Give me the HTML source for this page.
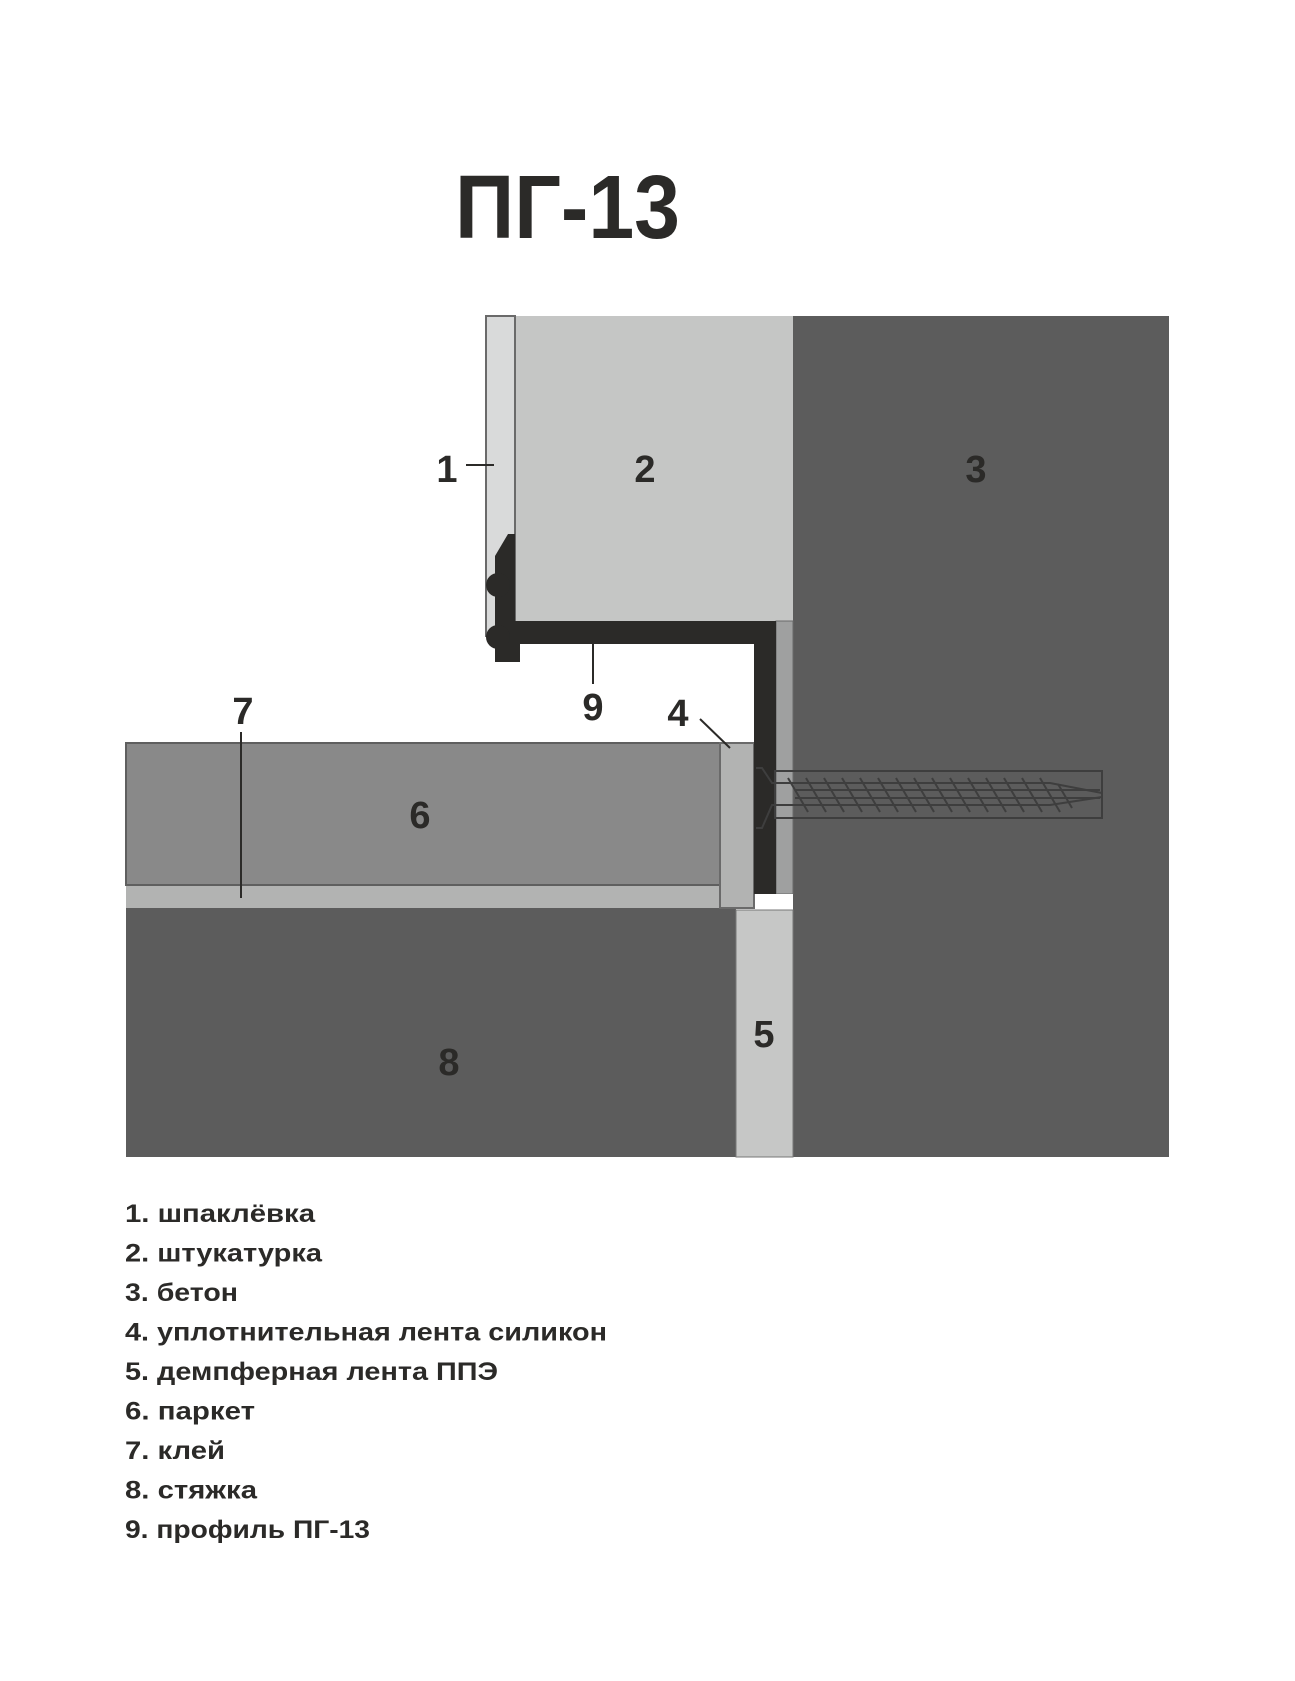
<!DOCTYPE html>
<html><head><meta charset="utf-8"><style>
html,body{margin:0;padding:0;background:#fff}
svg{display:block}
.t{font-family:"Liberation Sans",sans-serif;font-weight:bold;fill:#2b2a28}
</style></head><body>
<svg width="1295" height="1681" viewBox="0 0 1295 1681" xmlns="http://www.w3.org/2000/svg">
<text class="t" x="455" y="238" font-size="90" textLength="225" lengthAdjust="spacingAndGlyphs">ПГ-13</text>
<rect x="793" y="316" width="376" height="841" fill="#5c5c5c"/>
<rect x="515" y="316" width="278" height="305" fill="#c5c6c5"/>
<rect x="486" y="316" width="29" height="320" fill="#d9dada" stroke="#6a6a6a" stroke-width="2"/>
<rect x="776" y="621" width="17" height="273" fill="#9fa0a0" stroke="#6a6a6a" stroke-width="1"/>
<rect x="126" y="908" width="610" height="249" fill="#5c5c5c"/>
<rect x="736" y="910" width="57" height="247" fill="#c6c7c6" stroke="#777" stroke-width="1"/>
<rect x="126" y="743" width="594" height="142" fill="#898989" stroke="#5f5f5f" stroke-width="2"/>
<rect x="126" y="885" width="594" height="23" fill="#b2b3b2"/>
<line x1="126" y1="885" x2="720" y2="885" stroke="#5f5f5f" stroke-width="2"/>
<rect x="720" y="743" width="34" height="165" fill="#b2b3b2" stroke="#6a6a6a" stroke-width="2"/>
<rect x="755" y="894" width="38" height="14" fill="#fff"/>
<rect x="515" y="621" width="261" height="23" fill="#2b2a28"/>
<rect x="754" y="621" width="22" height="273" fill="#2b2a28"/>
<path d="M495 556 L508 534 L515 534 L515 662 L495 662 Z" fill="#2b2a28"/>
<circle cx="498" cy="585" r="12" fill="#2b2a28"/>
<circle cx="498" cy="637" r="12" fill="#2b2a28"/>
<rect x="495" y="644" width="25" height="18" fill="#2b2a28"/>
<g stroke="#3e3e3e" stroke-width="2" fill="none">
<rect x="775" y="771" width="327" height="47"/>
<path d="M756 768 L762 768 L772 783 L1050 783 L1102 793 M756 828 L762 828 L772 805 L1050 805 L1102 797"/>
<line x1="795" y1="790" x2="1100" y2="790"/><line x1="795" y1="798" x2="1100" y2="798"/>
</g>
<g stroke="#3e3e3e" stroke-width="2">
<line x1="788" y1="778" x2="808" y2="812"/><line x1="806" y1="778" x2="826" y2="812"/><line x1="824" y1="778" x2="844" y2="812"/><line x1="842" y1="778" x2="862" y2="812"/><line x1="860" y1="778" x2="880" y2="812"/><line x1="878" y1="778" x2="898" y2="812"/><line x1="896" y1="778" x2="916" y2="812"/><line x1="914" y1="778" x2="934" y2="812"/><line x1="932" y1="778" x2="952" y2="812"/><line x1="950" y1="778" x2="970" y2="812"/><line x1="968" y1="778" x2="988" y2="812"/><line x1="986" y1="778" x2="1006" y2="812"/><line x1="1004" y1="778" x2="1024" y2="812"/><line x1="1022" y1="778" x2="1042" y2="812"/><line x1="1040" y1="778" x2="1060" y2="812"/><line x1="1058" y1="784" x2="1072" y2="808"/>
</g>
<g stroke="#2b2a28" stroke-width="2">
<line x1="466" y1="465" x2="494" y2="465"/>
<line x1="593" y1="644" x2="593" y2="684"/>
<line x1="700" y1="719" x2="730" y2="748"/>
<line x1="241" y1="732" x2="241" y2="898"/>
</g>
<g class="t" font-size="38" text-anchor="middle">
<text x="447" y="482">1</text>
<text x="645" y="482">2</text>
<text x="976" y="482">3</text>
<text x="593" y="720">9</text>
<text x="678" y="726">4</text>
<text x="243" y="724">7</text>
<text x="420" y="828">6</text>
<text x="449" y="1075">8</text>
<text x="764" y="1047">5</text>
</g>
<g class="t" font-size="25">
<text x="125" y="1222" textLength="190" lengthAdjust="spacingAndGlyphs">1. шпаклёвка</text>
<text x="125" y="1261.5" textLength="197" lengthAdjust="spacingAndGlyphs">2. штукатурка</text>
<text x="125" y="1301" textLength="113" lengthAdjust="spacingAndGlyphs">3. бетон</text>
<text x="125" y="1340.5" textLength="482" lengthAdjust="spacingAndGlyphs">4. уплотнительная лента силикон</text>
<text x="125" y="1380" textLength="373" lengthAdjust="spacingAndGlyphs">5. демпферная лента ППЭ</text>
<text x="125" y="1419.5" textLength="130" lengthAdjust="spacingAndGlyphs">6. паркет</text>
<text x="125" y="1459" textLength="100" lengthAdjust="spacingAndGlyphs">7. клей</text>
<text x="125" y="1498.5" textLength="132" lengthAdjust="spacingAndGlyphs">8. стяжка</text>
<text x="125" y="1538" textLength="245" lengthAdjust="spacingAndGlyphs">9. профиль ПГ-13</text>
</g>
</svg>
</body></html>
